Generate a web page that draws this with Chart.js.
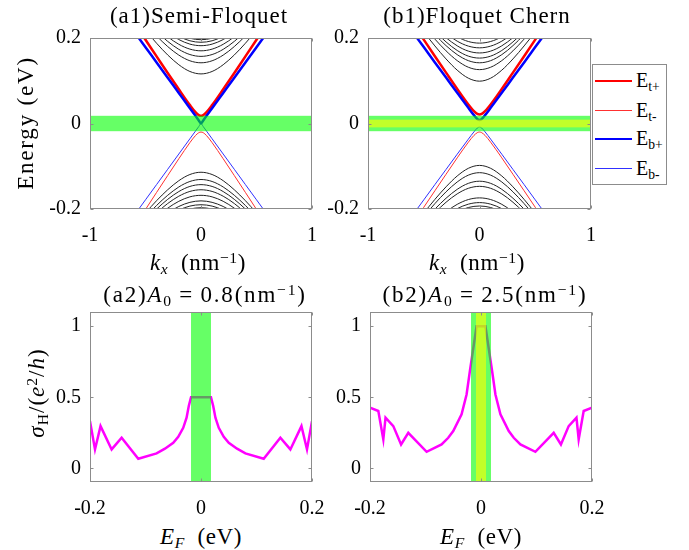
<!DOCTYPE html>
<html><head><meta charset="utf-8">
<script src="https://cdn.jsdelivr.net/npm/chart.js@4.4.0/dist/chart.umd.min.js"></script>
<style>
body{margin:0;background:#fff;width:689px;height:550px;position:relative;overflow:hidden;font-family:"Liberation Serif",serif;color:#000}
canvas{position:absolute}
.t{position:absolute;white-space:nowrap;transform:translate(-50%,-50%);font-size:23px;line-height:1;letter-spacing:0.6px}
.r{transform:translate(-50%,-50%) rotate(-90deg)}
sub{font-size:0.68em;position:relative;top:0.28em;vertical-align:baseline;line-height:0}
sup{font-size:0.68em;position:relative;top:-0.45em;vertical-align:baseline;line-height:0}
#leg{position:absolute;left:592px;top:64px;width:73px;height:119px;border:1px solid #8c8c8c;background:#fff}
.li{position:absolute;left:2px;width:37px}
.ll{position:absolute;left:43px;font-size:20px;line-height:1;transform:translateY(-55%)}
</style></head><body>
<canvas id="a1" width="297" height="226" style="left:30px;top:24px"></canvas>
<canvas id="b1" width="298" height="226" style="left:308px;top:24px"></canvas>
<canvas id="a2" width="297" height="224" style="left:30px;top:298px"></canvas>
<canvas id="b2" width="297" height="224" style="left:310px;top:298px"></canvas>

<div class="t" style="left:199px;top:15px;letter-spacing:1px">(a1)Semi-Floquet</div>
<div class="t" style="left:477px;top:15px;letter-spacing:1px">(b1)Floquet Chern</div>
<div class="t r" style="left:25px;top:123px;letter-spacing:1.8px">Energy (eV)</div>
<div class="t" style="left:198px;top:262px"><i>k<sub>x</sub></i>&nbsp; (nm<sup>−1</sup>)</div>
<div class="t" style="left:477px;top:262px"><i>k<sub>x</sub></i>&nbsp; (nm<sup>−1</sup>)</div>
<div class="t" style="left:205px;top:294px;letter-spacing:1.8px">(a2)<i>A</i><sub>0</sub>&thinsp;=&thinsp;0.8(nm<sup>−1</sup>)</div>
<div class="t" style="left:485px;top:294px;letter-spacing:1.8px">(b2)<i>A</i><sub>0</sub>&thinsp;=&thinsp;2.5(nm<sup>−1</sup>)</div>
<div class="t r" style="left:36px;top:393px;letter-spacing:1px"><i>σ</i><sub>H</sub>/(<i>e</i><sup>2</sup>/<i>h</i>)</div>
<div class="t" style="left:201px;top:536px"><i>E<sub>F</sub></i>&nbsp; (eV)</div>
<div class="t" style="left:481px;top:536px"><i>E<sub>F</sub></i>&nbsp; (eV)</div>

<div id="leg">
 <div class="li" style="top:15px;border-top:2.5px solid #ff0000"></div><div class="ll" style="top:16px">E<sub>t+</sub></div>
 <div class="li" style="top:45px;border-top:1px solid #ff3030"></div><div class="ll" style="top:46px">E<sub>t-</sub></div>
 <div class="li" style="top:73px;border-top:2.5px solid #0000ff"></div><div class="ll" style="top:74px">E<sub>b+</sub></div>
 <div class="li" style="top:103px;border-top:1px solid #3030ff"></div><div class="ll" style="top:104px">E<sub>b-</sub></div>
</div>

<script>
// ---------- tick labels ----------
const kTicks = [-1, 0, 1];
const eTicks = [-0.2, 0, 0.2];
const efTicks = [-0.2, 0, 0.2];
const sigTicks = [0, 0.5, 1];

// ---------- shaded energy windows ----------
const bandGreen = [-0.018, 0.018];
const bandYellow = [-0.009, 0.009];

// ---------- surface-state momenta ----------
const kSurf = [-0.6,-0.5,-0.4,-0.3,-0.2,-0.1,-0.05,-0.02,0,0.02,0.05,0.1,0.2,0.3,0.4,0.5,0.6];
// (a1)
const a1Etp = [0.235,0.196,0.157,0.118,0.080,0.043,0.0265,0.0196,0.018,0.0196,0.0265,0.043,0.080,0.118,0.157,0.196,0.235];
const a1Etm = [-0.2408,-0.201,-0.1612,-0.1217,-0.0825,-0.0447,-0.0283,-0.0215,-0.020,-0.0215,-0.0283,-0.0447,-0.0825,-0.1217,-0.1612,-0.201,-0.2408];
const a1Ebp = [0.2142,0.1785,0.1428,0.1071,0.0714,0.0357,0.0179,0.0071,0.0,0.0071,0.0179,0.0357,0.0714,0.1071,0.1428,0.1785,0.2142];
const a1Ebm = [-0.2142,-0.1785,-0.1428,-0.1071,-0.0714,-0.0357,-0.0179,-0.0071,0.0,-0.0071,-0.0179,-0.0357,-0.0714,-0.1071,-0.1428,-0.1785,-0.2142];
// (b1)
const b1Etp = [0.2349,0.1961,0.1574,0.1189,0.0807,0.0443,0.0287,0.0224,0.021,0.0224,0.0287,0.0443,0.0807,0.1189,0.1574,0.1961,0.2349];
const b1Etm = [-0.2348,-0.196,-0.1573,-0.1187,-0.0804,-0.0438,-0.0279,-0.0215,-0.020,-0.0215,-0.0279,-0.0438,-0.0804,-0.1187,-0.1573,-0.196,-0.2348];
const b1Ebp = [0.2143,0.1787,0.1429,0.1074,0.0718,0.0366,0.0196,0.0107,0.008,0.0107,0.0196,0.0366,0.0718,0.1074,0.1429,0.1787,0.2143];
const b1Ebm = [-0.2143,-0.1787,-0.1429,-0.1074,-0.0718,-0.0366,-0.0196,-0.0107,-0.008,-0.0107,-0.0196,-0.0366,-0.0718,-0.1074,-0.1429,-0.1787,-0.2143];

// ---------- bulk subbands ----------
const kBulk = [-0.5,-0.4,-0.3,-0.2,-0.1,0,0.1,0.2,0.3,0.4,0.5];
const a1BulkUp = [
 [0.2179,0.1877,0.1603,0.1375,0.1217,0.116,0.1217,0.1375,0.1603,0.1877,0.2179],
 [0.2328,0.2048,0.1800,0.1600,0.1467,0.142,0.1467,0.1600,0.1800,0.2048,0.2328],
 [0.2423,0.2155,0.1921,0.1735,0.1613,0.157,0.1613,0.1735,0.1921,0.2155,0.2423],
 [0.2510,0.2251,0.2029,0.1853,0.1740,0.170,0.1740,0.1853,0.2029,0.2251,0.2510],
 [0.2590,0.2343,0.2130,0.1964,0.1857,0.182,0.1857,0.1964,0.2130,0.2343,0.2590],
 [0.2650,0.2406,0.2199,0.2038,0.1935,0.190,0.1935,0.2038,0.2199,0.2406,0.2650],
 [0.2700,0.2455,0.2251,0.2094,0.1994,0.196,0.1994,0.2094,0.2251,0.2455,0.2700]
];
const a1BulkDn = [
 [-0.2089,-0.1805,-0.1550,-0.1338,-0.1193,-0.114,-0.1193,-0.1338,-0.1550,-0.1805,-0.2089],
 [-0.2186,-0.1917,-0.1679,-0.1485,-0.1356,-0.131,-0.1356,-0.1485,-0.1679,-0.1917,-0.2186],
 [-0.2260,-0.2001,-0.1774,-0.1592,-0.1472,-0.143,-0.1472,-0.1592,-0.1774,-0.2001,-0.2260],
 [-0.2338,-0.2089,-0.1872,-0.1701,-0.1589,-0.155,-0.1589,-0.1701,-0.1872,-0.2089,-0.2338],
 [-0.2430,-0.2187,-0.1981,-0.1820,-0.1716,-0.168,-0.1716,-0.1820,-0.1981,-0.2187,-0.2430],
 [-0.2525,-0.2292,-0.2093,-0.1941,-0.1844,-0.181,-0.1844,-0.1941,-0.2093,-0.2292,-0.2525],
 [-0.2590,-0.2366,-0.2170,-0.2025,-0.1932,-0.190,-0.1932,-0.2025,-0.2170,-0.2366,-0.2590],
 [-0.2640,-0.2420,-0.2227,-0.2091,-0.2001,-0.197,-0.2001,-0.2091,-0.2227,-0.2420,-0.2640]
];
const b1BulkUp = [
 [0.2142,0.1814,0.1510,0.1248,0.1060,0.099,0.1060,0.1248,0.1510,0.1814,0.2142],
 [0.2280,0.1974,0.1699,0.1471,0.1316,0.126,0.1316,0.1471,0.1699,0.1974,0.2280],
 [0.2372,0.2080,0.1821,0.1611,0.1470,0.142,0.1470,0.1611,0.1821,0.2080,0.2372],
 [0.2443,0.2157,0.1908,0.1708,0.1576,0.153,0.1576,0.1708,0.1908,0.2157,0.2443],
 [0.2520,0.2228,0.2006,0.1817,0.1693,0.165,0.1693,0.1817,0.2006,0.2228,0.2520],
 [0.2600,0.2320,0.2105,0.1926,0.1810,0.177,0.1810,0.1926,0.2105,0.2320,0.2600],
 [0.2670,0.2400,0.2200,0.2028,0.1918,0.188,0.1918,0.2028,0.2200,0.2400,0.2670]
];
const b1BulkDn = [
 [-0.2094,-0.1775,-0.1481,-0.1228,-0.1048,-0.098,-0.1048,-0.1228,-0.1481,-0.1775,-0.2094],
 [-0.2178,-0.1874,-0.1598,-0.1368,-0.1208,-0.115,-0.1208,-0.1368,-0.1598,-0.1874,-0.2178],
 [-0.2290,-0.2003,-0.1748,-0.1540,-0.1400,-0.135,-0.1400,-0.1540,-0.1748,-0.2003,-0.2290],
 [-0.2366,-0.2086,-0.1842,-0.1646,-0.1516,-0.147,-0.1516,-0.1646,-0.1842,-0.2086,-0.2366],
 [-0.2553,-0.2286,-0.2064,-0.1891,-0.1779,-0.174,-0.1779,-0.1891,-0.2064,-0.2286,-0.2553],
 [-0.2630,-0.2370,-0.2155,-0.1992,-0.1887,-0.185,-0.1887,-0.1992,-0.2155,-0.2370,-0.2630],
 [-0.2680,-0.2430,-0.2220,-0.2067,-0.1965,-0.193,-0.1965,-0.2067,-0.2220,-0.2430,-0.2680]
];

// ---------- Hall conductance ----------
const efA = [-0.2,-0.191,-0.181,-0.161,-0.143,-0.113,-0.08,-0.065,-0.05,-0.041,-0.032,-0.026,-0.022,-0.018,0.018,0.022,0.026,0.032,0.041,0.05,0.065,0.08,0.113,0.143,0.161,0.181,0.191,0.2];
const sigA = [0.333,0.134,0.298,0.134,0.216,0.068,0.106,0.139,0.181,0.223,0.286,0.357,0.439,0.5,0.5,0.439,0.357,0.286,0.223,0.181,0.139,0.106,0.068,0.216,0.134,0.298,0.134,0.333];
const efB = [-0.2,-0.185,-0.176,-0.172,-0.158,-0.144,-0.131,-0.098,-0.071,-0.059,-0.05,-0.035,-0.026,-0.02,-0.008,0.008,0.02,0.026,0.035,0.05,0.059,0.071,0.098,0.131,0.144,0.158,0.172,0.176,0.185,0.2];
const sigB = [0.427,0.404,0.204,0.357,0.298,0.169,0.251,0.117,0.169,0.216,0.263,0.38,0.52,0.685,1.0,1.0,0.685,0.52,0.38,0.263,0.216,0.169,0.117,0.251,0.169,0.298,0.357,0.204,0.404,0.427];

// ---------- helpers ----------
function pts(xs, ys){ return xs.map((x,i)=>({x:x, y:ys[i]})); }
function ln(xs, ys, color, w, smooth){
  return {data:pts(xs,ys), borderColor:color, borderWidth:w, pointRadius:0, fill:false,
          tension:0, cubicInterpolationMode: smooth ? 'monotone' : 'default', clip:0};
}
const decor = {
  id:'decor',
  afterDatasetsDraw(chart, args, o){
    const ctx = chart.ctx, a = chart.chartArea, x = chart.scales.x, y = chart.scales.y;
    ctx.save();
    ctx.beginPath(); ctx.rect(a.left, a.top, a.right-a.left, a.bottom-a.top); ctx.clip();
    (o.bands||[]).forEach(b=>{
      ctx.fillStyle = b.color;
      if (o.dir === 'h') {
        const p1 = y.getPixelForValue(b.range[0]), p2 = y.getPixelForValue(b.range[1]);
        ctx.fillRect(a.left, p2, a.right-a.left, p1-p2);
      } else {
        const p1 = x.getPixelForValue(b.range[0]), p2 = x.getPixelForValue(b.range[1]);
        ctx.fillRect(p1, a.top, p2-p1, a.bottom-a.top);
      }
    });
    ctx.restore();
  },
  afterDraw(chart){
    const ctx = chart.ctx, a = chart.chartArea, x = chart.scales.x, y = chart.scales.y;
    ctx.save();
    ctx.strokeStyle = '#8c8c8c'; ctx.lineWidth = 1;
    const L = Math.round(a.left)+0.5, R = Math.round(a.right)-0.5, T = Math.round(a.top)+0.5, B = Math.round(a.bottom)-0.5;
    ctx.strokeRect(L, T, R-L, B-T);
    ctx.beginPath();
    x.ticks.forEach(t=>{ const p = Math.round(x.getPixelForValue(t.value))+0.5;
      ctx.moveTo(p,B); ctx.lineTo(p,B-3); ctx.moveTo(p,T); ctx.lineTo(p,T+3); });
    y.ticks.forEach(t=>{ const p = Math.round(y.getPixelForValue(t.value))+0.5;
      ctx.moveTo(L,p); ctx.lineTo(L+3,p); ctx.moveTo(R,p); ctx.lineTo(R-3,p); });
    ctx.stroke();
    ctx.restore();
  }
};
const tickFont = {family:'"Liberation Serif", serif', size:20};
function fmt(v){ return String(Math.round(v*10)/10); }
function make(id, datasets, xr, yr, xt, yt, dir, bands, yw, xh, padR, padT, xpad){
  new Chart(document.getElementById(id), {
    type:'line',
    data:{datasets:datasets},
    options:{
      responsive:false, animation:false, events:[],
      layout:{padding:{left:0, right:padR, top:padT, bottom:0}},
      plugins:{legend:{display:false}, tooltip:{enabled:false}, decor:{dir:dir, bands:bands}},
      scales:{
        x:{type:'linear', min:xr[0], max:xr[1],
           afterBuildTicks:s=>{ s.ticks = xt.map(v=>({value:v})); },
           afterFit:s=>{ s.height = xh; s.paddingLeft = 0; s.paddingRight = 0; },
           grid:{display:false, drawTicks:false}, border:{display:false},
           ticks:{color:'#000', font:tickFont, padding:xpad, maxRotation:0, autoSkip:false, callback:v=>fmt(v)}},
        y:{type:'linear', min:yr[0], max:yr[1],
           afterBuildTicks:s=>{ s.ticks = yt.map(v=>({value:v})); },
           afterFit:s=>{ s.width = yw; s.paddingTop = 0; s.paddingBottom = 0; },
           grid:{display:false, drawTicks:false}, border:{display:false},
           ticks:{color:'#000', font:tickFont, padding:9, autoSkip:false, callback:v=>fmt(v)}}
      }
    },
    plugins:[decor]
  });
}
function bandSet(surf, up, dn){
  const ds = [
    ln(kSurf, surf[0], '#0000ff', 2.5, true),
    ln(kSurf, surf[1], '#ff0000', 2.5, true),
    ln(kSurf, surf[2], '#3030ff', 1, true),
    ln(kSurf, surf[3], '#ff3030', 1, true)
  ];
  up.concat(dn).forEach(c=>ds.push(ln(kBulk, c, '#222222', 1, true)));
  return ds;
}
const G = {color:'rgba(0,255,0,0.6)', range:bandGreen};
const Y = {color:'rgba(255,255,0,0.6)', range:bandYellow};

make('a1', bandSet([a1Ebp,a1Etp,a1Ebm,a1Etm], a1BulkUp, a1BulkDn), [-1,1], [-0.2,0.2], kTicks, eTicks, 'h', [G], 60, 41, 15, 14, 15);
make('b1', bandSet([b1Ebp,b1Etp,b1Ebm,b1Etm], b1BulkUp, b1BulkDn), [-1,1], [-0.2,0.2], kTicks, eTicks, 'h', [G,Y], 60, 41, 15, 14, 15);
make('a2', [ln(efA, sigA, '#ff00ff', 2.5, false)], [-0.2,0.2], [-0.095,1.1], efTicks, sigTicks, 'v', [G], 60, 40, 15, 14, 15);
make('b2', [ln(efB, sigB, '#ff00ff', 2.5, false)], [-0.2,0.2], [-0.095,1.1], efTicks, sigTicks, 'v', [G,Y], 60, 40, 15, 14, 15);
</script>
</body></html>
